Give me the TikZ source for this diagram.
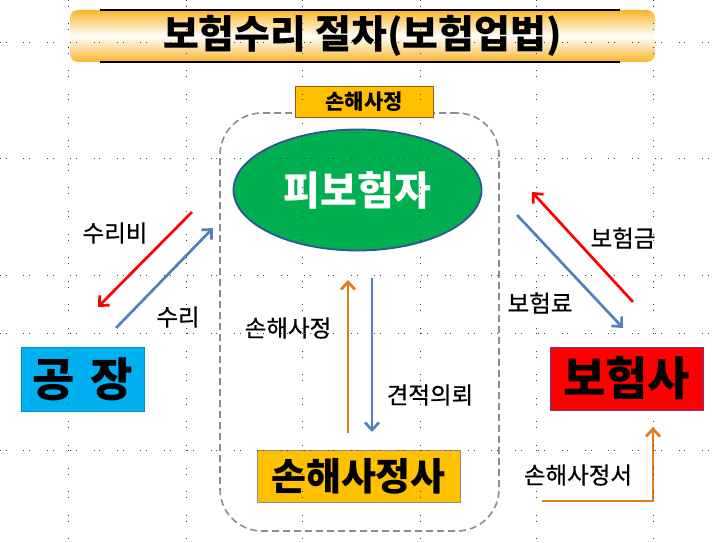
\documentclass[tikz,border=0pt]{standalone}
\usepackage{fontspec}
\setmainfont{Noto Sans CJK KR}
\newfontfamily\krmid{Noto Sans CJK KR}[FakeBold=0.7]
\usetikzlibrary{arrows.meta,positioning,calc,shapes.geometric}
\definecolor{cRed}  {HTML}{FF0000}
\definecolor{cBlue} {HTML}{4F81BD}
\definecolor{cOrng} {HTML}{E47A1E}
\definecolor{cGold} {HTML}{FFC000}
\definecolor{cBar}  {HTML}{F9B62A}
\definecolor{cSky}  {HTML}{00B0F0}
\definecolor{cGrn}  {HTML}{00B050}
\definecolor{cNavy} {HTML}{2F5597}
\definecolor{cGrey} {HTML}{8C8C8C}
\tikzset{
  box/.style   ={draw=cGrey,line width=0.8pt,inner sep=0pt,align=center},
  gold/.style  ={box,fill=cGold},
  bigtxt/.style={font=\fontsize{46}{50}\selectfont\bfseries},
  lbl/.style   ={font=\fontsize{23.5}{26}\krmid,inner sep=1pt},
  arr/.style   ={-{Straight Barb[length=7.5pt,width=14pt]},line width=2.7pt},
  grp/.style   ={draw=cGrey,line width=1.6pt,dash pattern=on 7pt off 4pt,
                 rounded corners=42pt,inner sep=0pt},
  guide/.style ={draw=black!75,line width=0.8pt,
                 dash pattern=on 0.8pt off 5pt on 0.8pt off 16.8pt},
}
\begin{document}
\begin{tikzpicture}[x=1pt,y=-1pt]
\useasboundingbox (0,0) rectangle (720,543);

% title bar
\node[rounded corners=8pt,minimum width=585pt,minimum height=52pt,
      top color=cBar,bottom color=cBar,middle color=white,
      font=\fontsize{39}{42}\selectfont\bfseries] (title) at (362.5,36)
  {보험수리 절차(보험업법)};
\draw[line width=1.8pt] ($(title.north west)+(30,0)$) -- ($(title.north east)+(-35,0)$);
\draw[line width=1.8pt] ($(title.south west)+(30,0)$) -- ($(title.south east)+(-35,0)$);

% adjustment area
\node[grp,minimum width=279pt,minimum height=418pt] (area) at (359.5,322) {};
\node[gold,draw=cOrng!70!black,minimum width=138pt,minimum height=31pt,
      font=\fontsize{21}{24}\selectfont\bfseries] (tab) at (364,101.5) {손해사정};

\node[ellipse,draw=cNavy,line width=1.8pt,fill=cGrn,text=white,
      minimum width=248pt,minimum height=121pt,
      font=\fontsize{40}{44}\selectfont\bfseries] (insured) at (357.5,190) {피보험자};

\node[box,fill=cSky,draw=cSky!80!black,minimum width=123pt,minimum height=64pt,
      bigtxt] (factory) at (82.5,379) {공\hspace{0.35em}장};
\node[box,fill=cRed,draw=violet!60!gray,minimum width=153pt,minimum height=63pt,
      bigtxt] (insurer) at (626.5,378.5) {보험사};
\node[gold,minimum width=203pt,minimum height=52pt,
      font=\fontsize{38}{42}\selectfont\bfseries] (adjuster) at (358.5,476) {손해사정사};

% arrow ends
\coordinate (costA) at (192,212); \coordinate (costB) at (98,307);
\coordinate (repA)  at (116,328); \coordinate (repB)  at (213,228);
\coordinate (payA)  at (633,302); \coordinate (payB)  at (532,192);
\coordinate (premA) at (517,215); \coordinate (premB) at (623,328);
\coordinate (adjA)  at (348,433); \coordinate (adjB)  at (348,280);
\coordinate (estA)  at (372,278); \coordinate (estB)  at (372,432);
\coordinate (repoA) at (542,501); \coordinate (repoB) at (653,427);

\draw[arr,cRed]  (costA) -- (costB);
\draw[arr,cBlue] (repA)  -- (repB);
\draw[arr,cRed]  (payA)  -- (payB);
\draw[arr,cBlue] (premA) -- (premB);
\draw[arr,cOrng] (adjA)  -- (adjB);
\draw[arr,cBlue] (estA)  -- (estB);
\draw[arr,cOrng] (repoA) -| (repoB);

\node[lbl] (lCost) at (115,233) {수리비};
\node[lbl] (lRep)  at (178,317) {수리};
\node[lbl] (lPay)  at (623,238) {보험금};
\node[lbl] (lPrem) at (540,303) {보험료};
\node[lbl] (lAdj)  at (288,328) {손해사정};
\node[lbl] (lEst)  at (430,395) {견적의뢰};
\node[lbl] (lRepo) at (578,475) {손해사정서};

% slide grid
\foreach \y in {42,158,275,333,450}{\draw[guide] (0,\y) -- (720,\y);}
\foreach \x in {68,186,302,420,536,653}{\draw[guide] (\x,0) -- (\x,543);}
\end{tikzpicture}
\end{document}
